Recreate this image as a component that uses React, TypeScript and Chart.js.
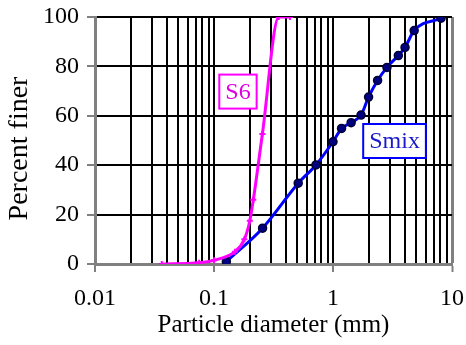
import { useEffect, useRef } from "react";
import { Chart, registerables } from "chart.js";

Chart.register(...registerables);

// Grain-size distributions: particle diameter (mm) vs. percent finer
const s6Diameter = [0.0364, 0.075, 0.1, 0.15, 0.18, 0.2, 0.214, 0.255, 0.35, 0.435];
const s6Finer = [0, 0.5, 1.5, 5, 10, 17.5, 26, 52.6, 100, 100];

const smixDiameter = [0.127, 0.256, 0.51, 0.719, 1.0, 1.18, 1.42, 1.72, 1.99, 2.37, 2.84, 3.54, 4.03, 4.81, 8.09];
const smixFiner = [1, 14.5, 32.7, 40.1, 49.5, 54.9, 57.2, 60.3, 67.6, 74.3, 79.6, 84.4, 87.7, 94.5, 99.5];

// Axis ticks
const xDecades = [0.01, 0.1, 1, 10];
const xDecadeLabels = ["0.01", "0.1", "1", "10"];
const xMultipliers = [1, 2, 3, 4, 5, 6, 7, 8, 9];
const yTickValues = [0, 20, 40, 60, 80, 100];
const yAxisTitle = "Percent finer";

// Series name boxes, anchored in data coordinates
const seriesNames = ["S6", "Smix"];
const nameAnchorX = [0.159, 3.29];
const nameAnchorY = [69.8, 49.8];

const MAGENTA = "#ff00ff";
const BLUE = "#0000ff";
const GRID = "#000000";
const AXIS = "#808080";
const FONT = "'Liberation Serif', 'Times New Roman', serif";

const xGridValues: number[] = [];
xDecades.slice(0, -1).forEach((d) => xMultipliers.forEach((m) => xGridValues.push(d * m)));
xGridValues.push(xDecades[xDecades.length - 1]);

const isDecade = (v: number) => xDecades.some((d) => Math.abs(v - d) < d * 1e-6);

const nameBoxes = {
  id: "nameBoxes",
  afterDatasetsDraw(chart: any) {
    const { ctx, scales } = chart;
    const colors = [
      { text: "#e000e0", border: MAGENTA },
      { text: "#1a1acc", border: BLUE },
    ];
    ctx.save();
    ctx.font = `24px ${FONT}`;
    ctx.textAlign = "center";
    ctx.textBaseline = "middle";
    seriesNames.forEach((name, i) => {
      const px = scales.x.getPixelForValue(nameAnchorX[i]);
      const py = scales.y.getPixelForValue(nameAnchorY[i]);
      const w = ctx.measureText(name).width + 12;
      const h = 34;
      ctx.fillStyle = "#ffffff";
      ctx.fillRect(px - w / 2, py - h / 2, w, h);
      ctx.strokeStyle = colors[i].border;
      ctx.lineWidth = 2;
      ctx.strokeRect(px - w / 2, py - h / 2, w, h);
      ctx.fillStyle = colors[i].text;
      ctx.fillText(name, px, py + 1);
    });
    ctx.restore();
  },
};

// Vertical axis title, centred a little below the middle of the plot
const yTitle = {
  id: "yTitle",
  afterDraw(chart: any) {
    const { ctx, chartArea } = chart;
    ctx.save();
    ctx.font = `28px ${FONT}`;
    ctx.fillStyle = "#000000";
    ctx.textAlign = "center";
    ctx.textBaseline = "middle";
    ctx.translate(20, (chartArea.top + chartArea.bottom) / 2 + 8);
    ctx.rotate(-Math.PI / 2);
    ctx.fillText(yAxisTitle, 0, 0);
    ctx.restore();
  },
};

export default function App() {
  const ref = useRef<HTMLCanvasElement>(null);

  useEffect(() => {
    document.body.style.margin = "0";
    const canvas = ref.current;
    if (!canvas) return;

    const chart = new Chart(canvas, {
      type: "line",
      data: {
        datasets: [
          {
            label: "S6",
            data: s6Diameter.map((d, i) => ({ x: d, y: s6Finer[i] })),
            borderColor: MAGENTA,
            backgroundColor: MAGENTA,
            borderWidth: 3,
            pointStyle: "cross",
            pointRadius: 3,
            pointBorderWidth: 2,
            pointBorderColor: MAGENTA,
            cubicInterpolationMode: "monotone",
          },
          {
            label: "Smix",
            data: smixDiameter.map((d, i) => ({ x: d, y: smixFiner[i] })),
            borderColor: BLUE,
            backgroundColor: "#000080",
            borderWidth: 3,
            pointStyle: "circle",
            pointRadius: 4,
            pointBorderWidth: 1.5,
            pointBorderColor: "#000033",
            pointBackgroundColor: "#000080",
            cubicInterpolationMode: "monotone",
          },
        ],
      },
      options: {
        responsive: false,
        animation: false,
        devicePixelRatio: 1,
        layout: { padding: { top: 17, right: 14, left: 0, bottom: 0 } },
        plugins: {
          legend: { display: false },
          tooltip: { enabled: false },
        },
        scales: {
          x: {
            type: "logarithmic",
            min: 0.01,
            max: 10,
            afterBuildTicks: (scale: any) => {
              scale.ticks = xGridValues.map((v) => ({ value: v }));
            },
            afterFit: (scale: any) => {
              scale.height = 81;
              scale.paddingLeft = 0;
              scale.paddingRight = 0;
            },
            ticks: {
              autoSkip: false,
              maxRotation: 0,
              padding: 12,
              color: "#000000",
              font: { family: FONT, size: 24 },
              callback: (value: any) => {
                const idx = xDecades.findIndex((d) => Math.abs(Number(value) - d) < d * 1e-6);
                return idx >= 0 ? xDecadeLabels[idx] : "";
              },
            },
            grid: {
              color: (ctx: any) => (ctx.tick && Math.abs(ctx.tick.value - 10) < 1e-6 ? AXIS : GRID),
              lineWidth: (ctx: any) => (ctx.tick && Math.abs(ctx.tick.value - 10) < 1e-6 ? 3 : 2),
              tickColor: (ctx: any) => (ctx.tick && isDecade(ctx.tick.value) ? AXIS : "rgba(0,0,0,0)"),
              tickLength: 8,
              tickWidth: 2,
            },
            border: { color: AXIS, width: 3 },
            title: {
              display: true,
              text: "Particle diameter (mm)",
              color: "#000000",
              font: { family: FONT, size: 25 },
              padding: { top: 0, bottom: 5 },
            },
          },
          y: {
            type: "linear",
            min: 0,
            max: 100,
            afterBuildTicks: (scale: any) => {
              scale.ticks = yTickValues.map((v) => ({ value: v }));
            },
            afterFit: (scale: any) => {
              scale.width = 95;
              scale.paddingTop = 0;
              scale.paddingBottom = 0;
            },
            ticks: {
              padding: 8,
              color: "#000000",
              font: { family: FONT, size: 24 },
            },
            grid: {
              color: GRID,
              lineWidth: 2,
              tickColor: AXIS,
              tickLength: 8,
              tickWidth: 2,
            },
            border: { color: AXIS, width: 3 },
            title: { display: false },
          },
        },
      },
      plugins: [nameBoxes, yTitle],
    } as any);

    return () => chart.destroy();
  }, []);

  return (
    <div style={{ width: 466, height: 345 }}>
      <canvas ref={ref} width={466} height={345} style={{ display: "block" }} />
    </div>
  );
}
